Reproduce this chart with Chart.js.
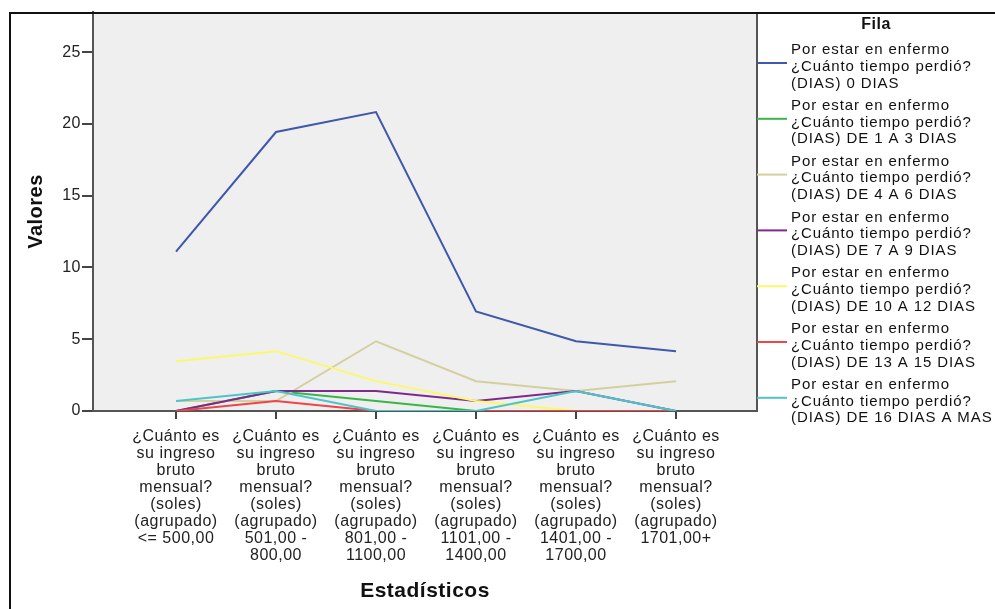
<!DOCTYPE html>
<html>
<head>
<meta charset="utf-8">
<script src="https://cdn.jsdelivr.net/npm/chart.js@4"></script>
<style>
  html, body { margin: 0; padding: 0; background: #fff; }
  #wrap { width: 995px; height: 609px; position: relative; }
</style>
</head>
<body>
<div id="wrap"><canvas id="grafico" width="995" height="609"></canvas></div>
<script>
const FONT = "'Liberation Sans', Arial, sans-serif";

// Etiquetas del eje X (una línea por elemento)
const pregunta = ['¿Cuánto es', 'su ingreso', 'bruto', 'mensual?', '(soles)', '(agrupado)'];
const rangos = [
  ['<= 500,00'],
  ['501,00 -', '800,00'],
  ['801,00 -', '1100,00'],
  ['1101,00 -', '1400,00'],
  ['1401,00 -', '1700,00'],
  ['1701,00+']
];
const etiquetasX = rangos.map(r => pregunta.concat(r));

// Series (porcentajes)
const serieNombres = ['(DIAS) 0 DIAS', '(DIAS) DE 1 A 3 DIAS', '(DIAS) DE 4 A 6 DIAS', '(DIAS) DE 7 A 9 DIAS',
  '(DIAS) DE 10 A 12 DIAS', '(DIAS) DE 13 A 15 DIAS', '(DIAS) DE 16 DIAS A MAS'];
const dias0   = [11.11, 19.44, 20.83, 6.94, 4.86, 4.17];
const dias1a3 = [0, 1.39, 0.69, 0, 0, 0];
const dias4a6 = [0.69, 0.69, 4.86, 2.08, 1.39, 2.08];
const dias7a9 = [0, 1.39, 1.39, 0.69, 1.39, 0];
const dias10a12 = [3.47, 4.17, 2.08, 0.69, 0, 0];
const dias13a15 = [0, 0.69, 0, 0, 0, 0];
const dias16mas = [0.69, 1.39, 0, 0, 1.39, 0];
const series = [dias0, dias1a3, dias4a6, dias7a9, dias10a12, dias13a15, dias16mas];
const colores = ['#3e58ac', '#3ab54a', '#d4d09e', '#7e2a8c', '#fbf96a', '#f0444a', '#4cc4c8'];
const ticksY = [0, 5, 10, 15, 20, 25];

// Marco exterior + fondo del área de trazado
Chart.register({
  id: 'marco',
  beforeDraw(chart) {
    const { ctx, chartArea: a } = chart;
    ctx.save();
    ctx.fillStyle = '#fff';
    ctx.fillRect(0, 0, chart.width, chart.height);
    ctx.fillStyle = '#efefef';
    ctx.fillRect(a.left, a.top, a.right - a.left, a.bottom - a.top);
    ctx.strokeStyle = '#555';
    ctx.lineWidth = 2;
    ctx.beginPath();
    ctx.moveTo(a.right, a.top); ctx.lineTo(a.right, a.bottom);
    ctx.stroke();
    ctx.restore();
    // el texto de SPSS sale algo más ancho
    ctx.letterSpacing = '0.5px';
  },
  afterDraw(chart) {
    const { ctx } = chart;
    ctx.save();
    ctx.strokeStyle = '#111';
    ctx.lineWidth = 2;
    ctx.beginPath();
    ctx.moveTo(10, chart.height); ctx.lineTo(10, 13); ctx.lineTo(chart.width, 13);
    ctx.stroke();
    ctx.restore();
  }
});

// Leyenda con etiquetas de varias líneas
Chart.register({
  id: 'leyenda',
  afterDraw(chart) {
    const { ctx, chartArea: a } = chart;
    ctx.save();
    ctx.fillStyle = '#111';
    ctx.textBaseline = 'middle';
    ctx.font = `bold 16px ${FONT}`;
    ctx.textAlign = 'center';
    ctx.fillText('Fila', 876, 25);
    ctx.font = `15px ${FONT}`;
    ctx.letterSpacing = '0.9px';
    ctx.textAlign = 'left';
    chart.data.datasets.forEach((ds, i) => {
      const yc = 63 + i * 55.8;
      ctx.strokeStyle = ds.borderColor;
      ctx.lineWidth = 2;
      ctx.beginPath(); ctx.moveTo(a.right, yc); ctx.lineTo(a.right + 30, yc); ctx.stroke();
      const lineas = ['Por estar en enfermo', '¿Cuánto tiempo perdió?', ds.label];
      lineas.forEach((t, j) => ctx.fillText(t, a.right + 34, yc - 13 + j * 16.7));
    });
    ctx.restore();
  }
});

new Chart(document.getElementById('grafico'), {
  type: 'line',
  data: {
    datasets: series.map((s, i) => ({
      label: serieNombres[i],
      data: s.map((v, k) => ({ x: k, y: v })),
      borderColor: colores[i],
      borderWidth: 2,
      pointRadius: 0,
      tension: 0,
      order: series.length - i
    }))
  },
  options: {
    responsive: false,
    animation: false,
    layout: { padding: { top: 12, right: 238, left: 0, bottom: 0 } },
    plugins: { legend: { display: false }, tooltip: { enabled: false } },
    scales: {
      x: {
        type: 'linear',
        min: -0.83, max: 5.81,
        afterBuildTicks: sc => { sc.ticks = etiquetasX.map((_, i) => ({ value: i })); },
        afterFit: sc => { sc.height = 198; },
        grid: { drawOnChartArea: false, drawTicks: true, tickLength: 8, color: '#444', lineWidth: 2 },
        border: { display: true, color: '#555', width: 2 },
        ticks: {
          autoSkip: false, maxRotation: 0, padding: 9,
          font: { family: FONT, size: 16, lineHeight: 1.06 }, color: '#222',
          callback: v => etiquetasX[v]
        },
        title: { display: true, text: 'Estadísticos', font: { family: FONT, size: 21, weight: 'bold' }, color: '#111', padding: { top: 0, bottom: 5 } }
      },
      y: {
        min: 0, max: 27.8,
        afterBuildTicks: sc => { sc.ticks = ticksY.map(v => ({ value: v })); },
        afterFit: sc => { sc.width = 93; },
        grid: { drawOnChartArea: false, drawTicks: true, tickLength: 11, color: '#444', lineWidth: 2 },
        border: { display: true, color: '#555', width: 2 },
        ticks: { font: { family: FONT, size: 16 }, color: '#222', padding: 1 },
        title: { display: true, text: 'Valores', font: { family: FONT, size: 20, weight: 'bold' }, color: '#111', padding: { top: 24, bottom: 0 } }
      }
    }
  }
});
</script>
</body>
</html>
